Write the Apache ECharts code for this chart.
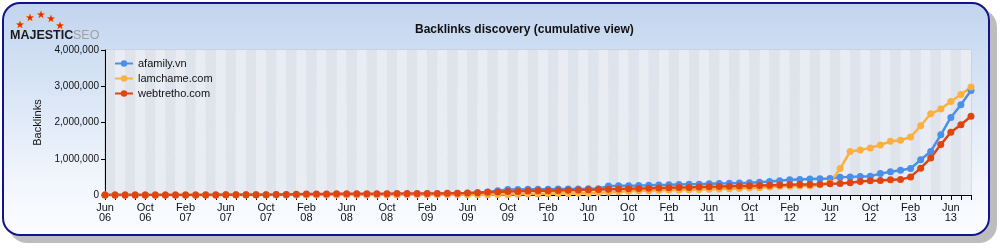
<!DOCTYPE html>
<html>
<head>
    <meta charset="utf-8">
    <title>Backlinks discovery</title>
    <script src="https://cdn.jsdelivr.net/npm/echarts@6/dist/echarts.min.js"></script>
    <style>
        body { margin: 0; background: #fff; }
        #wrap { position: relative; width: 1000px; height: 250px; }
        #frame {
            position: absolute; left: 2px; top: 2px; width: 984px; height: 230px;
            border: 2px solid #14148a; border-radius: 18px;
            background: linear-gradient(#c2d5ef, #f3f7fd 80%, #fafcff);
            box-shadow: 7px 7px 0 #bdbdbd;
        }
        #main { position: absolute; left: 0; top: 0; width: 1000px; height: 250px; }
    </style>
</head>
<body>
<div id="wrap">
    <div id="frame"></div>
    <div id="main"></div>
</div>
<script type="text/javascript">
    // months, Jun 06 .. Aug 13
    var months = [
        'Jun 06','Jul 06','Aug 06','Sep 06','Oct 06','Nov 06','Dec 06',
        'Jan 07','Feb 07','Mar 07','Apr 07','May 07','Jun 07','Jul 07','Aug 07','Sep 07','Oct 07','Nov 07','Dec 07',
        'Jan 08','Feb 08','Mar 08','Apr 08','May 08','Jun 08','Jul 08','Aug 08','Sep 08','Oct 08','Nov 08','Dec 08',
        'Jan 09','Feb 09','Mar 09','Apr 09','May 09','Jun 09','Jul 09','Aug 09','Sep 09','Oct 09','Nov 09','Dec 09',
        'Jan 10','Feb 10','Mar 10','Apr 10','May 10','Jun 10','Jul 10','Aug 10','Sep 10','Oct 10','Nov 10','Dec 10',
        'Jan 11','Feb 11','Mar 11','Apr 11','May 11','Jun 11','Jul 11','Aug 11','Sep 11','Oct 11','Nov 11','Dec 11',
        'Jan 12','Feb 12','Mar 12','Apr 12','May 12','Jun 12','Jul 12','Aug 12','Sep 12','Oct 12','Nov 12','Dec 12',
        'Jan 13','Feb 13','Mar 13','Apr 13','May 13','Jun 13','Jul 13','Aug 13'
    ];

    var afamily = [
        0, 0, 0, 0, 1000, 1000, 2000,
        2000, 3000, 3000, 4000, 4000, 5000, 5000, 6000, 6000, 7000, 8000, 8000,
        9000, 10000, 11000, 12000, 13000, 14000, 15000, 16000, 17000, 18000, 19000, 20000,
        22000, 25000, 28000, 32000, 38000, 45000, 60000, 85000, 115000, 150000, 155000, 158000,
        160000, 162000, 164000, 166000, 168000, 170000, 175000, 250000, 252000, 258000, 262000, 268000,
        275000, 280000, 288000, 295000, 300000, 308000, 315000, 322000, 330000, 340000, 355000, 370000,
        390000, 420000, 430000, 440000, 450000, 455000, 490000, 500000, 510000, 520000, 590000, 640000,
        680000, 730000, 970000, 1200000, 1660000, 2140000, 2490000, 2880000
    ];

    var lamchame = [
        0, 0, 0, 0, 0, 0, 0,
        0, 0, 0, 0, 0, 0, 0, 0, 0, 0, 0, 0,
        0, 0, 1000, 1000, 1000, 2000, 2000, 2000, 3000, 3000, 3000, 4000,
        4000, 4000, 5000, 5000, 5000, 6000, 8000, 10000, 12000, 15000, 20000, 25000,
        30000, 35000, 40000, 42000, 45000, 50000, 60000, 75000, 90000, 105000, 115000, 120000,
        128000, 135000, 140000, 148000, 152000, 160000, 168000, 175000, 182000, 190000, 200000, 220000,
        240000, 240000, 250000, 250000, 280000, 330000, 730000, 1200000, 1240000, 1300000, 1380000, 1480000,
        1510000, 1600000, 1910000, 2240000, 2370000, 2580000, 2770000, 2980000
    ];

    var webtretho = [
        0, 0, 0, 0, 0, 1000, 1000,
        1000, 2000, 2000, 3000, 3000, 4000, 5000, 6000, 8000, 10000, 12000, 15000,
        22000, 28000, 30000, 31000, 32000, 33000, 34000, 35000, 36000, 37000, 38000, 39000,
        40000, 42000, 44000, 46000, 48000, 52000, 65000, 75000, 85000, 95000, 100000, 108000,
        115000, 120000, 125000, 130000, 138000, 145000, 150000, 160000, 168000, 175000, 182000, 188000,
        195000, 200000, 205000, 210000, 218000, 225000, 232000, 240000, 248000, 255000, 262000, 270000,
        278000, 282000, 288000, 292000, 298000, 310000, 320000, 340000, 370000, 390000, 400000, 420000,
        425000, 500000, 740000, 1020000, 1390000, 1730000, 1940000, 2170000
    ];

    var yTicks = [0, 1000000, 2000000, 3000000, 4000000];

    var fontFamily = '"Liberation Sans", Arial, sans-serif';

    function thousands(v) {
        return String(v).replace(/\B(?=(\d{3})+(?!\d))/g, ',');
    }

    function lineSeries(name, color, data) {
        return {
            name: name,
            type: 'line',
            data: data,
            symbol: 'circle',
            symbolSize: 7,
            showAllSymbol: true,
            lineStyle: { width: 2.5, color: color },
            itemStyle: { color: color },
            emphasis: { disabled: true }
        };
    }

    var myChart = echarts.init(document.getElementById('main'));

    // logo stars along an arc
    var stars = [[20, 25], [30, 18], [41, 15], [51, 19], [60, 26]];
    var graphics = stars.map(function (p) {
        return {
            type: 'text', x: p[0], y: p[1],
            style: {
                text: '\u2605', fontSize: 10, fill: '#e8221a', stroke: '#f6c21c', lineWidth: 0.8,
                fontFamily: 'DejaVu Sans', align: 'center', verticalAlign: 'middle'
            }
        };
    });
    graphics.push({
        type: 'text', left: 10, top: 29,
        style: { text: 'MAJESTIC', fontSize: 12.5, fontWeight: 'bold', fill: '#1a1a1a', fontFamily: fontFamily }
    });
    graphics.push({
        type: 'text', left: 73, top: 29,
        style: { text: 'SEO', fontSize: 12.5, fill: '#a0a0a0', fontFamily: fontFamily }
    });

    var option = {
        animation: false,
        textStyle: { fontFamily: fontFamily },
        title: {
            text: 'Backlinks discovery (cumulative view)',
            left: 410,
            top: 19,
            textStyle: { fontSize: 12, fontWeight: 'bold', color: '#111', fontFamily: fontFamily }
        },
        graphic: graphics,
        legend: {
            orient: 'vertical',
            left: 109,
            top: 53,
            itemWidth: 18,
            itemHeight: 8,
            itemGap: 4,
            textStyle: { fontSize: 11, color: '#111' },
            data: ['afamily.vn', 'lamchame.com', 'webtretho.com']
        },
        grid: {
            left: 105, right: 29, top: 50, bottom: 55,
            show: true, borderColor: '#c4c4c4', borderWidth: 1
        },
        xAxis: {
            type: 'category',
            boundaryGap: false,
            data: months,
            axisLine: { lineStyle: { color: '#000' } },
            axisTick: { interval: 0, length: 5, lineStyle: { color: '#000' } },
            axisLabel: {
                interval: 3,
                margin: 8,
                fontSize: 11,
                lineHeight: 10,
                color: '#111',
                formatter: function (v) { return v.replace(' ', '\n'); }
            },
            splitLine: { show: false },
            splitArea: { show: true, interval: 0, areaStyle: { color: ['#dfe3ec', '#e9ecf3'] } }
        },
        yAxis: {
            type: 'value',
            min: yTicks[0],
            max: yTicks[yTicks.length - 1],
            interval: 1000000,
            name: 'Backlinks',
            nameLocation: 'middle',
            nameRotate: 90,
            nameGap: 62,
            nameTextStyle: { fontSize: 11, color: '#111' },
            axisLine: { show: true, lineStyle: { color: '#000' } },
            axisTick: { show: true, length: 4, lineStyle: { color: '#000' } },
            axisLabel: { fontSize: 10, color: '#111', margin: 6, formatter: thousands },
            splitLine: { lineStyle: { color: '#c4c4c4' } }
        },
        series: [
            lineSeries('afamily.vn', '#4a8fe9', afamily),
            lineSeries('lamchame.com', '#fdb03e', lamchame),
            lineSeries('webtretho.com', '#e0440f', webtretho)
        ]
    };

    myChart.setOption(option);
</script>
</body>
</html>
